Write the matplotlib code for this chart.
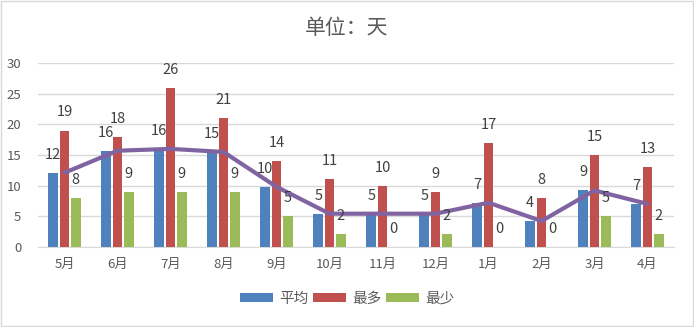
import matplotlib
matplotlib.use("Agg")
import matplotlib.pyplot as plt
import numpy as np

plt.rcParams['font.family'] = ['Noto Sans CJK SC', 'DejaVu Sans']

# 数据
months = ['5月', '6月', '7月', '8月', '9月', '10月', '11月', '12月', '1月', '2月', '3月', '4月']
avg_vals = [12.1, 15.7, 16.0, 15.5, 9.8, 5.4, 5.4, 5.4, 7.2, 4.2, 9.2, 7.0]
avg_labels = [12, 16, 16, 15, 10, 5, 5, 5, 7, 4, 9, 7]
max_vals = [19, 18, 26, 21, 14, 11, 10, 9, 17, 8, 15, 13]
min_vals = [8, 9, 9, 9, 5, 2, 0, 2, 0, 0, 5, 2]

c_blue = '#4F81BD'
c_red = '#C0504D'
c_green = '#9BBB59'
c_line = '#8064A2'
c_text = '#595959'

fig = plt.figure(figsize=(6.94, 3.27), dpi=100)
ax = fig.add_axes([38 / 694, 1 - 246.7 / 327, 636 / 694, 183.4 / 327])

x = np.arange(len(months))
w = 0.18
off = 0.213

b1 = ax.bar(x - off, avg_vals, w, color=c_blue, label='平均', zorder=2)
b2 = ax.bar(x, max_vals, w, color=c_red, label='最多', zorder=2)
b3 = ax.bar(x + off, min_vals, w, color=c_green, label='最少', zorder=2)
ax.plot(x, avg_vals, color=c_line, lw=3, zorder=3, solid_capstyle='round')

# 数据标签
for bars, labels in [(b1, avg_labels), (b2, max_vals), (b3, min_vals)]:
    for rect, lab in zip(bars, labels):
        ax.annotate(str(lab), (rect.get_x() + rect.get_width() / 2, rect.get_height()),
                    xytext=(0, 13), textcoords='offset points', ha='center', va='center',
                    fontsize=10.5, color='#404040', zorder=4)

ax.set_xlim(-0.5, len(months) - 0.5)
ax.set_ylim(0, 30)
ax.set_yticks(range(0, 31, 5))
ax.set_xticks(x)
ax.set_xticklabels(months)
ax.tick_params(axis='both', length=0, labelsize=9.5, labelcolor=c_text)
ax.tick_params(axis='y', pad=12)
ax.tick_params(axis='x', pad=8)
ax.grid(axis='y', color='#D9D9D9', lw=1, zorder=0)
for s in ['top', 'right', 'left']:
    ax.spines[s].set_visible(False)
ax.spines['bottom'].set_color('#D9D9D9')
ax.spines['bottom'].set_zorder(1)

fig.text(0.5, 1 - 28 / 327, '单位：天', ha='center', va='center', fontsize=15, color=c_text)

leg = fig.legend(handles=[b1, b2, b3], loc='center', bbox_to_anchor=(0.5, 1 - 299 / 327),
                 ncol=3, frameon=False, fontsize=10.5, handlelength=2.3, handleheight=0.6,
                 handletextpad=0.4, columnspacing=0.3)
for t in leg.get_texts():
    t.set_color(c_text)

fig.patches.append(plt.Rectangle((0.002, 0.003), 0.996, 0.994, transform=fig.transFigure,
                                 fill=False, edgecolor='#D9D9D9', lw=1))

fig.savefig('out.png', dpi=100)
